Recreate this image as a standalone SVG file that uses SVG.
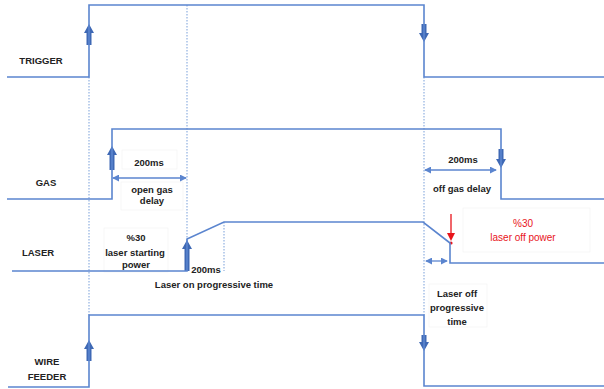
<svg xmlns="http://www.w3.org/2000/svg" width="604" height="389" viewBox="0 0 604 389">
  <style>
    .sig { fill: none; stroke: #5b85cf; stroke-width: 1.6; }
    .guide { fill: none; stroke: #8fb0e0; stroke-width: 1.2; stroke-dasharray: 1.5 1.5; }
    .blk { fill: #3f69b5; }
    .dim { fill: none; stroke: #5b85cf; stroke-width: 1.3; marker-start: url(#tipS); marker-end: url(#tipE); }
    .lbl { font-family: "Liberation Sans", Arial, sans-serif; font-size: 9.5px; font-weight: bold; fill: #222; text-anchor: middle; }
    .red { fill: #e8141b; font-weight: normal; font-size: 10px; }
    .box { fill: #fff; stroke: #f4f4f4; stroke-width: 0.8; }
  </style>
  <defs>
    <marker id="tipE" viewBox="0 0 8 8" refX="7" refY="4" markerWidth="7" markerHeight="7" markerUnits="userSpaceOnUse" orient="auto">
      <path d="M0,0 L8,4 L0,8 Z" fill="#5b85cf"/>
    </marker>
    <marker id="tipS" viewBox="0 0 8 8" refX="1" refY="4" markerWidth="7" markerHeight="7" markerUnits="userSpaceOnUse" orient="auto">
      <path d="M8,0 L0,4 L8,8 Z" fill="#5b85cf"/>
    </marker>
  </defs>

  <rect width="604" height="389" fill="#fff"/>

  <!-- label backgrounds -->
  <g id="label-boxes">
    <rect class="box" x="122" y="150" width="55" height="19"/>
    <rect class="box" x="121" y="182" width="62" height="28"/>
    <rect class="box" x="104" y="228" width="64" height="44"/>
    <rect class="box" x="463" y="208" width="127" height="44"/>
    <rect class="box" x="429" y="284" width="58" height="43"/>
  </g>

  <!-- guide lines and arrows -->
  <g id="connectors">
    <line class="guide" x1="89" y1="77" x2="89" y2="315"/>
    <line class="guide" x1="187" y1="5" x2="187" y2="271"/>
    <line class="guide" x1="424" y1="77" x2="424" y2="315"/>
    <line class="guide" x1="224" y1="222" x2="224" y2="271"/>

    <line class="dim" x1="113" y1="178" x2="186" y2="178"/>
    <line class="dim" x1="425" y1="170" x2="496" y2="170"/>
    <line class="dim" x1="426" y1="261" x2="447" y2="261"/>

    <!-- block arrows: up -->
    <path class="blk" d="M89,24 L94,33 L91.5,33 L91.5,45 L86.5,45 L86.5,33 L84,33 Z"/>
    <path class="blk" d="M112,146 L117,155 L114.5,155 L114.5,170 L109.5,170 L109.5,155 L107,155 Z"/>
    <path class="blk" d="M187,240 L192,249 L189.5,249 L189.5,271 L184.5,271 L184.5,249 L182,249 Z"/>
    <path class="blk" d="M89,340 L94,349 L91.5,349 L91.5,361 L86.5,361 L86.5,349 L84,349 Z"/>
    <!-- block arrows: down -->
    <path class="blk" d="M424,42 L419,33 L421.5,33 L421.5,24 L426.5,24 L426.5,33 L429,33 Z"/>
    <path class="blk" d="M501,168 L496,159 L498.5,159 L498.5,149 L503.5,149 L503.5,159 L506,159 Z"/>
    <path class="blk" d="M424,351 L419,342 L421.5,342 L421.5,335 L426.5,335 L426.5,342 L429,342 Z"/>

    <!-- red marker -->
    <line x1="451" y1="214" x2="451" y2="234" stroke="#e8141b" stroke-width="1.3"/>
    <path d="M451,241 L447,233 L455,233 Z" fill="#e8141b"/>
    <circle cx="451" cy="243" r="1.6" fill="#e8141b"/>
  </g>

  <g id="trigger">
    <polyline class="sig" points="7,77 89,77 89,5 424,5 424,77 604,77"/>
    <text class="lbl" x="41" y="64">TRIGGER</text>
  </g>

  <g id="gas">
    <polyline class="sig" points="7,199 112,199 112,129 501,129 501,199 604,199"/>
    <text class="lbl" x="46" y="186">GAS</text>
  </g>

  <g id="laser">
    <polyline class="sig" points="12,271 187,271 187,239 224,222 423,222 450,243 450,263 604,263"/>
    <text class="lbl" x="38" y="256">LASER</text>
  </g>

  <g id="wire-feeder">
    <polyline class="sig" points="8,387 89,387 89,315 424,315 424,386 604,386"/>
    <text class="lbl" x="47" y="365">WIRE</text>
    <text class="lbl" x="47" y="380">FEEDER</text>
  </g>

  <g id="annotations">
    <text class="lbl" x="149" y="166">200ms</text>
    <text class="lbl" x="152" y="193">open gas</text>
    <text class="lbl" x="152" y="204">delay</text>
    <text class="lbl" x="136" y="241">%30</text>
    <text class="lbl" x="135" y="256">laser starting</text>
    <text class="lbl" x="136" y="268">power</text>
    <text class="lbl" x="206" y="273">200ms</text>
    <text class="lbl" x="214" y="288">Laser on progressive time</text>
    <text class="lbl" x="463" y="163">200ms</text>
    <text class="lbl" x="462" y="192">off gas delay</text>
    <text class="lbl red" x="523" y="227">%30</text>
    <text class="lbl red" x="523" y="241">laser off power</text>
    <text class="lbl" x="457" y="297">Laser off</text>
    <text class="lbl" x="457" y="311">progressive</text>
    <text class="lbl" x="457" y="325">time</text>
  </g>
</svg>
